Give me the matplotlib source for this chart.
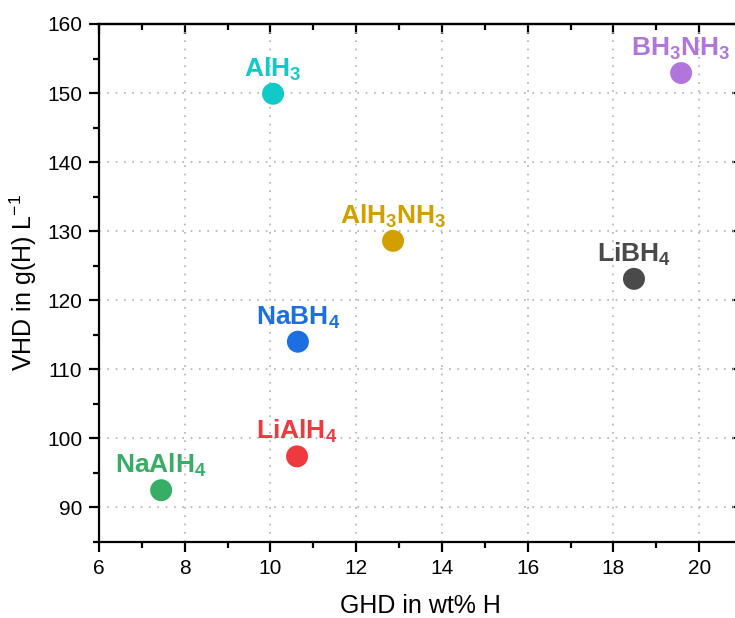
import matplotlib
matplotlib.use("Agg")
import matplotlib.pyplot as plt
from matplotlib.ticker import MultipleLocator

plt.rcParams['font.family'] = ['Liberation Sans', 'DejaVu Sans']
plt.rcParams['mathtext.fontset'] = 'custom'
plt.rcParams['mathtext.rm'] = 'Liberation Sans'
plt.rcParams['mathtext.it'] = 'Liberation Sans:italic'
plt.rcParams['mathtext.bf'] = 'Liberation Sans:bold'

names = [r'$\mathbf{AlH_3}$', r'$\mathbf{BH_3NH_3}$', r'$\mathbf{AlH_3NH_3}$',
         r'$\mathbf{LiBH_4}$', r'$\mathbf{NaBH_4}$', r'$\mathbf{LiAlH_4}$',
         r'$\mathbf{NaAlH_4}$']
ghd = [10.06, 19.58, 12.86, 18.48, 10.64, 10.62, 7.45]
vhd = [149.9, 152.9, 128.6, 123.1, 114.0, 97.4, 92.5]
colors = ['#12C9C9', '#B176DC', '#D19F00', '#4A4A4A', '#1C6FE2', '#EE3A3E', '#38AD66']

fig = plt.figure(figsize=(7.35, 6.18), dpi=100)
ax = fig.add_axes([99/735, 1-542/618, (742-99)/735, (542-24)/618])

ax.scatter(ghd, vhd, s=250, c=colors, zorder=3, linewidths=0)
for n, x, y, c in zip(names, ghd, vhd, colors):
    ax.annotate(n, (x, y), xytext=(0, 8), textcoords='offset points',
                ha='center', va='bottom', color=c, fontsize=19, zorder=4)

ax.set_xlim(6, 21)
ax.set_ylim(85, 160)
ax.xaxis.set_major_locator(MultipleLocator(2))
ax.xaxis.set_minor_locator(MultipleLocator(1))
ax.yaxis.set_major_locator(MultipleLocator(10))
ax.yaxis.set_minor_locator(MultipleLocator(5))
ax.grid(True, which='major', linestyle=(0, (1, 4)), color='#b0b0b0', linewidth=1.2)
ax.set_axisbelow(True)

for s in ax.spines.values():
    s.set_linewidth(1.6)
ax.tick_params(which='major', direction='out', length=7, width=1.6, labelsize=15,
               pad=5, top=False, right=False)
ax.tick_params(which='minor', direction='out', length=4.5, width=1.6,
               top=False, right=False)
# mirrored inward ticks on top/right
ax2 = ax.secondary_xaxis('top')
ax2.xaxis.set_major_locator(MultipleLocator(2))
ax2.xaxis.set_minor_locator(MultipleLocator(1))
ax2.tick_params(which='major', direction='in', length=7, width=1.6, labeltop=False)
ax2.tick_params(which='minor', direction='in', length=4.5, width=1.6)
ax2.spines['top'].set_linewidth(1.6)
ay2 = ax.secondary_yaxis('right')
ay2.yaxis.set_major_locator(MultipleLocator(10))
ay2.yaxis.set_minor_locator(MultipleLocator(5))
ay2.tick_params(which='major', direction='in', length=7, width=1.6, labelright=False)
ay2.tick_params(which='minor', direction='in', length=4.5, width=1.6)

ax.set_xlabel('GHD in wt% H', fontsize=18, labelpad=12)
ax.set_ylabel(r'VHD in g(H) L$^{-1}$', fontsize=18, labelpad=6)

fig.savefig('out.png', dpi=100)
